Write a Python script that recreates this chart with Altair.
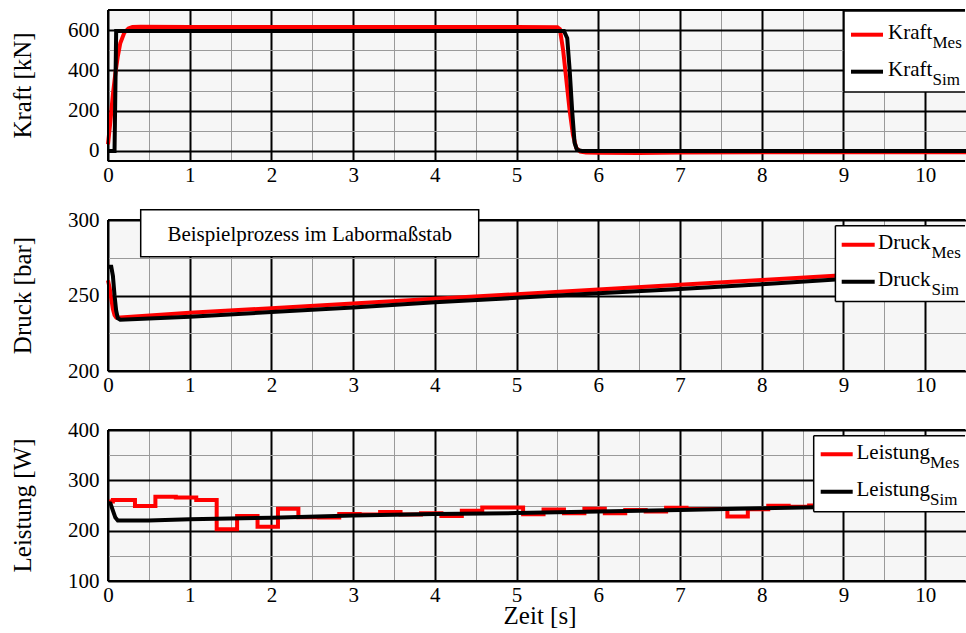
import altair as alt
import pandas as pd

# ---- Kraft [kN] -------------------------------------------------------
kraft_mes_t = [0, 0.03, 0.06, 0.09, 0.12, 0.15, 0.2, 0.25, 0.3, 0.4, 1, 2, 3, 4, 5,
               5.5, 5.53, 5.57, 5.61, 5.65, 5.69, 5.73, 5.78, 5.85, 6, 6.5, 7, 8, 9, 10, 10.5]
kraft_mes = [33, 150, 280, 385, 470, 535, 588, 608, 616, 617, 615, 615, 615, 615, 615,
             614, 605, 500, 350, 200, 80, 15, -3, -8, -9, -10, -8, -7, -6, -7, -6]
kraft_sim_t = [0, 0.08, 0.1, 5.58, 5.62, 5.65, 5.68, 5.71, 5.74, 5.8, 10.5]
kraft_sim = [0, 0, 596, 596, 560, 400, 200, 40, 5, 0, 0]

# ---- Druck [bar] ------------------------------------------------------
druck_mes_t = [0, 0.02, 0.04, 0.06, 0.08, 0.1, 0.15, 1, 2, 3, 4, 5, 6, 7, 8, 9, 10, 10.5]
druck_mes = [260, 255, 248, 241, 237, 235.5, 235.5, 238.5, 241.6, 244.7, 247.8, 250.9,
             254, 257.1, 260.3, 263.4, 266.5, 268]
druck_sim_t = [0, 0.04, 0.06, 0.08, 0.1, 0.12, 0.15, 1, 2, 3, 4, 5, 6, 7, 8, 9, 10, 10.5]
druck_sim = [269, 269, 263, 250, 240, 235, 234, 236, 239, 242, 245.5, 248.5, 251.5,
             254.3, 257.5, 261, 264, 265.5]

# ---- Leistung [W] (measured values are sample-and-hold) ---------------
leist_mes_t = [0, 0.06, 0.33, 0.58, 0.83, 1.08, 1.33, 1.58, 1.83, 2.08, 2.33, 2.58, 2.83,
               3.08, 3.33, 3.58, 3.83, 4.08, 4.33, 4.58, 4.83, 5.08, 5.33, 5.58, 5.83,
               6.08, 6.33, 6.58, 6.83, 7.08, 7.33, 7.58, 7.83, 8.08, 8.33, 8.58, 8.83,
               9.08, 9.33, 9.58, 9.83, 10.08, 10.33, 10.5]
leist_mes = [258, 261, 249, 267.5, 266, 261, 203, 229, 208, 243.5, 226.5, 226, 233,
             232, 237, 232, 234.5, 229, 239.5, 246, 246, 232.5, 242, 234.5, 243.5,
             234.5, 241, 238, 245.5, 243, 243, 228, 242.5, 249.5, 247.5, 250,
             249, 250, 251, 249, 252, 251, 252, 252]
leist_sim_t = [0, 0.03, 0.06, 0.09, 0.12, 0.5, 1, 2, 3, 4, 5, 6, 7, 8, 9, 10, 10.5]
leist_sim = [255, 254, 240, 226, 220, 220, 222.5, 225.8, 230, 233, 235, 238, 241, 244.5,
             247.5, 250.5, 252]

# ---- axis ticks -------------------------------------------------------
x_ticks = [0, 1, 2, 3, 4, 5, 6, 7, 8, 9, 10]
x_minor = [0.5, 1.5, 2.5, 3.5, 4.5, 5.5, 6.5, 7.5, 8.5, 9.5]
kraft_ticks, kraft_minor = [0, 200, 400, 600], [100, 300, 500]
druck_ticks, druck_minor = [200, 250, 300], [225, 275]
leist_ticks, leist_minor = [100, 200, 300, 400], [150, 250, 350]

W, H = 858, 151
FONT = "Liberation Serif, Times New Roman, DejaVu Serif, serif"
RED, BLACK, MINOR = "#ff0000", "#000000", "#9a9a9a"
BLANK = alt.Data(values=[{"k": 0}])


def frame(t, v):
    return pd.DataFrame({"t": t, "v": v})


def hrule(x0, x1, y, width, color=BLACK):
    return alt.Chart(BLANK).mark_rule(color=color, strokeWidth=width, strokeCap="butt").encode(
        x=alt.value(x0), x2=alt.value(x1), y=alt.value(y))


def vrule(x, y0, y1, width):
    return alt.Chart(BLANK).mark_rule(color=BLACK, strokeWidth=width, strokeCap="butt").encode(
        x=alt.value(x), y=alt.value(y0), y2=alt.value(y1))


def label(x, y, text, size, align="left", baseline="alphabetic", angle=0):
    return alt.Chart(BLANK).mark_text(text=text, font=FONT, fontSize=size, align=align,
                                      baseline=baseline, angle=angle, color=BLACK).encode(
        x=alt.value(x), y=alt.value(y))


def legend(name, x0, y0, y1, sx0, sx1, rows, tx, subx):
    layers = [
        alt.Chart(BLANK).mark_rect(fill="white").encode(
            x=alt.value(x0), x2=alt.value(W), y=alt.value(y0), y2=alt.value(y1)),
        hrule(x0, W - 1, y0, 1.5), hrule(x0, W - 1, y1, 1.5), vrule(x0, y0, y1, 1.5),
    ]
    for (sub, color), ry in zip([("Mes", RED), ("Sim", BLACK)], rows):
        layers.append(hrule(sx0, sx1, ry, 4, color))
        layers.append(label(tx, ry + 4.5, name, 21))
        layers.append(label(subx, ry + 13.5, sub, 17))
    return layers


def grid_axis(orient, values):
    return alt.Axis(orient=orient, values=values, grid=True, gridColor=MINOR, gridWidth=1,
                    labels=False, ticks=False, domain=False, title=None, zindex=0)


def main_axis(orient, values, pad):
    return alt.Axis(orient=orient, values=values, grid=True, gridColor=BLACK, gridWidth=2,
                    labels=True, labelFlush=False, labelOverlap=False, ticks=False, tickSize=0,
                    domain=False, labelPadding=pad, title=None, zindex=0)


def panel(mes, sim, ydom, yticks, yminor, ytitle, step, extra):
    xs = alt.Scale(domain=[0, 10.5], nice=False, zero=False)
    ys = alt.Scale(domain=ydom, nice=False, zero=False)
    red = alt.Chart(mes).mark_line(
        color=RED, strokeWidth=4, interpolate="step-after" if step else "linear").encode(
        x=alt.X("t:Q", scale=xs, axis=grid_axis("bottom", x_minor)),
        y=alt.Y("v:Q", scale=ys, axis=grid_axis("left", yminor)))
    black = alt.Chart(sim).mark_line(color=BLACK, strokeWidth=4).encode(
        x=alt.X("t:Q", scale=xs, axis=main_axis("bottom", x_ticks, 3)),
        y=alt.Y("v:Q", scale=ys, axis=main_axis("left", yticks, 9)))
    borders = [hrule(0, W - 1, 0, 2), hrule(0, W - 1, H, 2), vrule(0, 0, H, 2)]
    title = label(-85, H / 2, ytitle, 25, "center", "middle", 270)
    return alt.layer(red, black, *borders, title, *extra).resolve_axis(
        x="independent", y="independent").properties(width=W, height=H)


p_kraft = panel(
    frame(kraft_mes_t, kraft_mes), frame(kraft_sim_t, kraft_sim), [-50, 700],
    kraft_ticks, kraft_minor, "Kraft [kN]", False,
    legend("Kraft", 736, 1, 82, 743, 775, [24.7, 61.7], 780, 824.5))

p_druck = panel(
    frame(druck_mes_t, druck_mes), frame(druck_sim_t, druck_sim), [200, 300],
    druck_ticks, druck_minor, "Druck [bar]", False,
    [alt.Chart(BLANK).mark_rect(fill="white", stroke=BLACK, strokeWidth=1.5).encode(
        x=alt.value(32.7), x2=alt.value(370.7), y=alt.value(-10.3), y2=alt.value(36.7)),
     label(201.7, 20.7, "Beispielprozess im Labormaßstab", 21, "center")]
    + legend("Druck", 727.4, 5.7, 81.4, 733.7, 766.7, [24.7, 61.7], 770, 823.5))

p_leist = panel(
    frame(leist_mes_t, leist_mes), frame(leist_sim_t, leist_sim), [100, 400],
    leist_ticks, leist_minor, "Leistung [W]", True,
    legend("Leistung", 705.7, 5.7, 81.7, 712.7, 744.7, [24.3, 61.7], 748.5, 822)
    + [label(432, H + 43, "Zeit [s]", 25, "center")])

# the layout reserves a few pixels past the last panel; trim them so the page is 966 px wide
chart = alt.vconcat(p_kraft, p_druck, p_leist, spacing=59, bounds="flush").properties(
    padding={"left": 10, "top": 8, "right": -9, "bottom": 0}
).configure_view(
    fill="#f6f6f6", stroke="transparent"
).configure_axis(
    labelFont=FONT, labelFontSize=21, labelColor=BLACK
)

chart.save("out.html", embed_options={"renderer": "svg", "actions": False})
